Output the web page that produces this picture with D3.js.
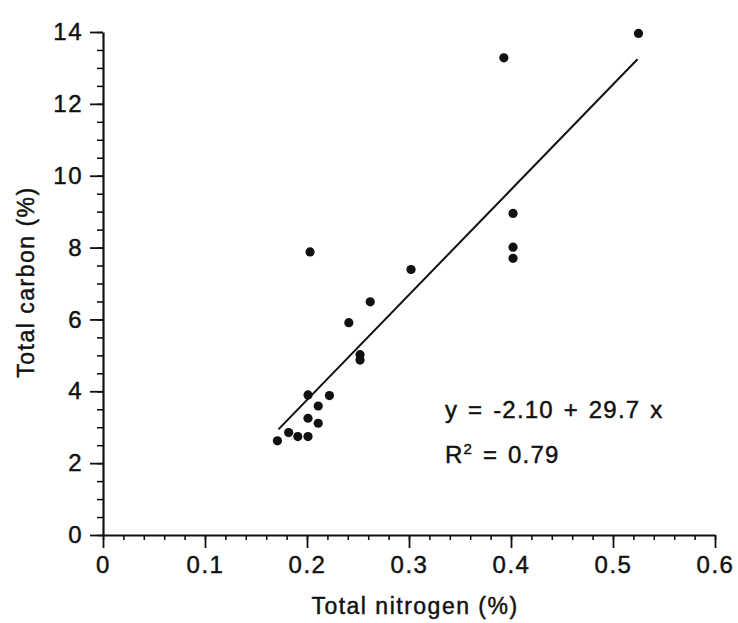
<!DOCTYPE html>
<html>
<head>
<meta charset="utf-8">
<script src="https://cdn.jsdelivr.net/npm/d3@7"></script>
<style>
  body { margin: 0; background: #fff; }
  svg text { font-family: "Liberation Sans", Arial, Helvetica, sans-serif; fill: #111; stroke: #111; stroke-width: 0.45px; }
</style>
</head>
<body>
<svg id="chart" width="738" height="623"></svg>
<script>
var nitrogen = [0.171, 0.182, 0.191, 0.201, 0.201, 0.201, 0.211, 0.211, 0.222, 0.203,
                0.241, 0.252, 0.252, 0.262, 0.302, 0.393, 0.402, 0.402, 0.402, 0.525];
var carbon   = [2.62, 2.85, 2.74, 2.74, 3.25, 3.90, 3.11, 3.59, 3.88, 7.88,
                5.91, 4.87, 5.02, 6.49, 7.39, 13.28, 8.95, 8.01, 7.70, 13.96];

// fitted line as drawn
var fitX = [0.172, 0.524];
var fitY = [2.94, 13.24];
var fitLabel = ["y = -2.10 + 29.7 x", "0.79"];

var xTicks = [0, 0.1, 0.2, 0.3, 0.4, 0.5, 0.6];
var yTicks = [0, 2, 4, 6, 8, 10, 12, 14];

var svg = d3.select("#chart");

var x = d3.scaleLinear().domain([0, 0.6]).range([103, 715]);
var y = d3.scaleLinear().domain([0, 14]).range([535, 32]);

// minor ticks first
svg.append("g")
  .attr("transform", "translate(0," + y(0) + ")")
  .call(d3.axisBottom(x).tickValues(d3.range(0, 0.601, 0.02)).tickSize(5).tickSizeOuter(0).tickFormat(""))
  .call(function(g) { g.select(".domain").remove(); })
  .selectAll("line").attr("stroke-width", 1.5);

svg.append("g")
  .attr("transform", "translate(" + x(0) + ",0)")
  .call(d3.axisLeft(y).tickValues(d3.range(0, 14.01, 0.5)).tickSize(6).tickSizeOuter(0).tickFormat(""))
  .call(function(g) { g.select(".domain").remove(); })
  .selectAll("line").attr("stroke-width", 1.5);

// major axes
var xAxis = svg.append("g")
  .attr("transform", "translate(0," + y(0) + ")")
  .call(d3.axisBottom(x).tickValues(xTicks).tickSize(13).tickSizeOuter(0).tickPadding(8)
        .tickFormat(function(d) { return d === 0 ? "0" : d3.format(".1f")(d); }));

var yAxis = svg.append("g")
  .attr("transform", "translate(" + x(0) + ",0)")
  .call(d3.axisLeft(y).tickValues(yTicks).tickSize(13).tickSizeOuter(0).tickPadding(7));

[xAxis, yAxis].forEach(function(g) {
  g.select(".domain").attr("stroke-width", 2.2).attr("stroke", "#111");
  g.selectAll(".tick line").attr("stroke-width", 1.8).attr("stroke", "#111");
  g.selectAll(".tick text")
    .style("font-size", "24px")
    .style("letter-spacing", "1.5px")
    .attr("fill", "#111");
});

// regression line
svg.append("line")
  .attr("x1", x(fitX[0])).attr("y1", y(fitY[0]))
  .attr("x2", x(fitX[1])).attr("y2", y(fitY[1]))
  .attr("stroke", "#111")
  .attr("stroke-width", 2);

// points
svg.append("g")
  .selectAll("circle")
  .data(d3.range(nitrogen.length))
  .enter().append("circle")
  .attr("cx", function(i) { return x(nitrogen[i]); })
  .attr("cy", function(i) { return y(carbon[i]); })
  .attr("r", 4.6)
  .attr("fill", "#111");

// axis titles
svg.append("text")
  .attr("x", 415).attr("y", 614)
  .attr("text-anchor", "middle")
  .style("font-size", "23px")
  .style("letter-spacing", "1.5px")
  .text("Total nitrogen (%)");

svg.append("text")
  .attr("transform", "translate(34,282) rotate(-90)")
  .attr("text-anchor", "middle")
  .style("font-size", "23px")
  .style("letter-spacing", "1.5px")
  .text("Total carbon (%)");

// equation
svg.append("text")
  .attr("x", 445).attr("y", 418)
  .style("font-size", "24px")
  .style("letter-spacing", "1.2px")
  .style("word-spacing", "2px")
  .text(fitLabel[0]);

var r2 = svg.append("text")
  .attr("x", 445).attr("y", 463)
  .style("font-size", "24px")
  .style("letter-spacing", "1.2px")
  .style("word-spacing", "2px");
r2.append("tspan").text("R");
r2.append("tspan").attr("dy", -9).style("font-size", "15px").text("2");
r2.append("tspan").attr("dy", 9).text(" = " + fitLabel[1]);
</script>
</body>
</html>
